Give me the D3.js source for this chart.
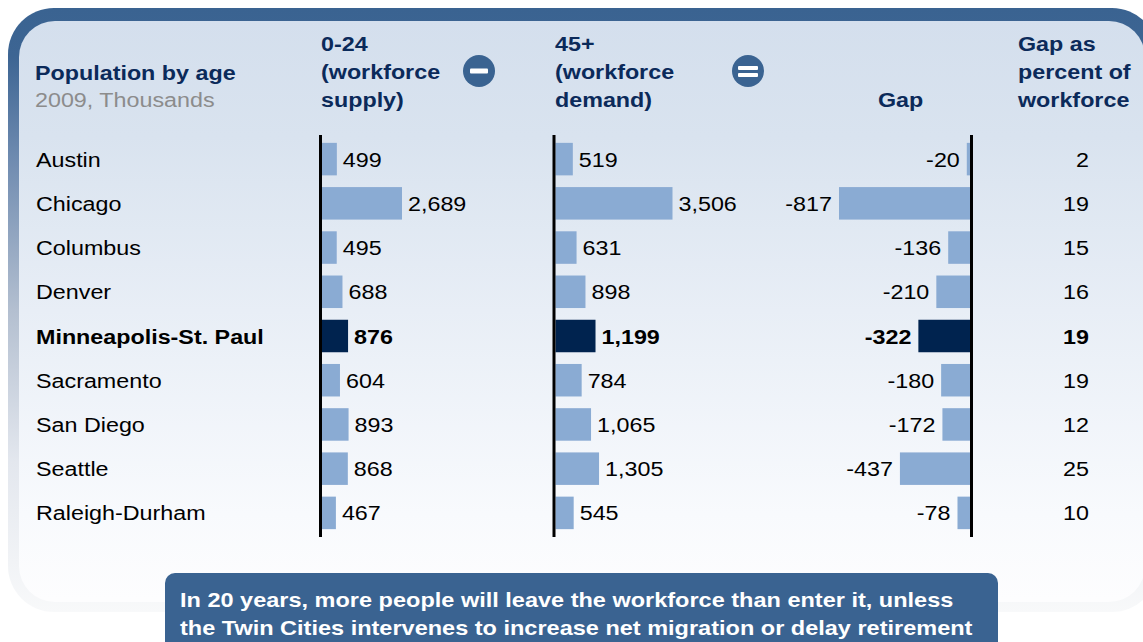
<!DOCTYPE html>
<html>
<head>
<meta charset="utf-8">
<script src="https://cdn.jsdelivr.net/npm/d3@7"></script>
<style>
  html, body { margin: 0; padding: 0; background: #ffffff; }
  svg { display: block; }
  text { font-family: "Liberation Sans", Arial, Helvetica, sans-serif; }
</style>
</head>
<body>
<div id="chart"></div>
<script>
// Population by age, 2009 (thousands)
const cities = ["Austin", "Chicago", "Columbus", "Denver", "Minneapolis-St. Paul",
                "Sacramento", "San Diego", "Seattle", "Raleigh-Durham"];
const supply = [499, 2689, 495, 688, 876, 604, 893, 868, 467];        // ages 0-24
const demand = [519, 3506, 631, 898, 1199, 784, 1065, 1305, 545];     // ages 45+
const gap = [-20, -817, -136, -210, -322, -180, -172, -437, -78];
const gapPct = [2, 19, 15, 16, 19, 19, 12, 25, 10];
const highlight = "Minneapolis-St. Paul";

const headSupply = ["0-24", "(workforce", "supply)"];
const headDemand = ["45+", "(workforce", "demand)"];
const headPct = ["Gap as", "percent of", "workforce"];
const note = ["In 20 years, more people will leave the workforce than enter it, unless",
              "the Twin Cities intervenes to increase net migration or delay retirement"];

const W = 1143, H = 642;
const NAVY = "#0b2a5a", BLUE = "#3a6391", BAR = "#8aabd3", BAR_HI = "#00234f";
const fmt = d3.format(",");

const svg = d3.select("#chart").append("svg").attr("width", W).attr("height", H);
const defs = svg.append("defs");

const gOuter = defs.append("linearGradient").attr("id", "frame")
  .attr("gradientUnits", "userSpaceOnUse").attr("x1", 0).attr("y1", 8).attr("x2", 0).attr("y2", 612);
[[0, "#3a6391"], [0.08, "#3d6593"], [0.25, "#6f8bb0"], [0.5, "#b3bfd0"], [0.75, "#e3e7ee"], [1, "#f8f9fa"]]
  .forEach(([o, c]) => gOuter.append("stop").attr("offset", o).attr("stop-color", c));

const gInner = defs.append("linearGradient").attr("id", "panel")
  .attr("gradientUnits", "userSpaceOnUse").attr("x1", 0).attr("y1", 21).attr("x2", 0).attr("y2", 600);
[[0, "#d4dfed"], [0.2, "#d9e3ef"], [0.5, "#e8eef6"], [0.85, "#f8fafd"], [1, "#fdfdfe"]]
  .forEach(([o, c]) => gInner.append("stop").attr("offset", o).attr("stop-color", c));

// Frame and panel
svg.append("rect").attr("x", 8).attr("y", 8).attr("width", 1150).attr("height", 604)
  .attr("rx", 46).attr("fill", "url(#frame)");
svg.append("rect").attr("x", 19).attr("y", 21).attr("width", 1126).attr("height", 581)
  .attr("rx", 36).attr("fill", "url(#panel)");

// Text helper: Helvetica-like wide set
function label(g, x, y, str, o = {}) {
  return g.append("text")
    .attr("transform", `translate(${x},${y}) scale(${o.sx || 1.11},1)`)
    .attr("text-anchor", o.anchor || "start")
    .attr("font-size", o.size || 21)
    .attr("font-weight", o.weight || "normal")
    .attr("fill", o.fill || "#000")
    .text(str);
}

// Header
const head = svg.append("g");
label(head, 35, 80, "Population by age", { weight: "bold", fill: NAVY });
label(head, 35, 107, "2009, Thousands", { fill: "#8c8c8c" });
headSupply.forEach((s, i) => label(head, 321, 51 + i * 28, s, { weight: "bold", fill: NAVY }));
headDemand.forEach((s, i) => label(head, 555, 51 + i * 28, s, { weight: "bold", fill: NAVY }));
label(head, 878, 107, "Gap", { weight: "bold", fill: NAVY });
headPct.forEach((s, i) => label(head, 1018, 51 + i * 28, s, { weight: "bold", fill: NAVY }));

// Operator icons
const minus = head.append("g").attr("transform", "translate(479,71)");
minus.append("circle").attr("r", 16).attr("fill", BLUE);
minus.append("rect").attr("x", -9).attr("y", -2.5).attr("width", 18).attr("height", 5).attr("rx", 1).attr("fill", "#fff");
const equals = head.append("g").attr("transform", "translate(748,71)");
equals.append("circle").attr("r", 16).attr("fill", BLUE);
equals.append("rect").attr("x", -10).attr("y", -5).attr("width", 20).attr("height", 4).attr("rx", 1).attr("fill", "#fff");
equals.append("rect").attr("x", -10).attr("y", 2).attr("width", 20).attr("height", 4).attr("rx", 1).attr("fill", "#fff");

// Scales
const y = d3.scaleBand().domain(cities).range([137, 535]).paddingInner(0.265).paddingOuter(0.1325);
const xSupply = d3.scaleLinear().domain([0, d3.max(supply)]).range([322, 402]);
const xDemand = d3.scaleLinear().domain([0, d3.max(demand)]).range([555.5, 672.5]);
const xGap = d3.scaleLinear().domain([d3.min(gap), 0]).range([839, 970]);

const rows = cities.map((c, i) => ({
  city: c, supply: supply[i], demand: demand[i], gap: gap[i], pct: gapPct[i], hi: c === highlight
}));

const body = svg.append("g");
const base = d => y(d.city) + y.bandwidth() / 2 + 7.5;
const wt = d => d.hi ? "bold" : "normal";

// City names
rows.forEach(d => label(body, 36, base(d), d.city, { weight: wt(d) }));

// Supply bars
body.selectAll("rect.sup").data(rows).join("rect").attr("class", "sup")
  .attr("x", xSupply(0)).attr("y", d => y(d.city))
  .attr("width", d => xSupply(d.supply) - xSupply(0)).attr("height", y.bandwidth())
  .attr("fill", d => d.hi ? BAR_HI : BAR);
rows.forEach(d => label(body, xSupply(d.supply) + 6, base(d), fmt(d.supply), { weight: wt(d) }));

// Demand bars
body.selectAll("rect.dem").data(rows).join("rect").attr("class", "dem")
  .attr("x", xDemand(0)).attr("y", d => y(d.city))
  .attr("width", d => xDemand(d.demand) - xDemand(0)).attr("height", y.bandwidth())
  .attr("fill", d => d.hi ? BAR_HI : BAR);
rows.forEach(d => label(body, xDemand(d.demand) + 6, base(d), fmt(d.demand), { weight: wt(d) }));

// Gap bars
body.selectAll("rect.gap").data(rows).join("rect").attr("class", "gap")
  .attr("x", d => xGap(d.gap)).attr("y", d => y(d.city))
  .attr("width", d => xGap(0) - xGap(d.gap)).attr("height", y.bandwidth())
  .attr("fill", d => d.hi ? BAR_HI : BAR);
rows.forEach(d => label(body, xGap(d.gap) - 7, base(d), d.gap, { anchor: "end", weight: wt(d) }));

// Gap as percent
rows.forEach(d => label(body, 1089, base(d), d.pct, { anchor: "end", weight: wt(d) }));

// Zero axes
[xSupply(0) - 1.5, xDemand(0) - 1.5, xGap(0) + 1.5].forEach(x =>
  body.append("line").attr("x1", x).attr("x2", x).attr("y1", 135).attr("y2", 537)
    .attr("stroke", "#000").attr("stroke-width", 3));

// Takeaway box
const box = svg.append("g");
box.append("rect").attr("x", 165).attr("y", 573).attr("width", 833).attr("height", 90)
  .attr("rx", 10).attr("fill", BLUE);
note.forEach((s, i) => label(box, 180, 607 + i * 27.5, s, { weight: "bold", fill: "#fff", size: 21, sx: 1.12 }));
</script>
</body>
</html>
